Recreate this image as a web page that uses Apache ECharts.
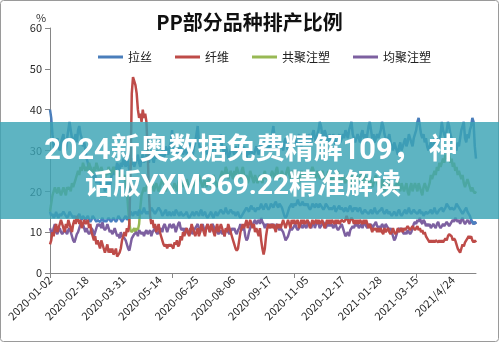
<!DOCTYPE html>
<html><head><meta charset="utf-8">
<script src="https://cdn.jsdelivr.net/npm/echarts@6/dist/echarts.min.js"></script>
<style>html,body{margin:0;padding:0;background:#fff}#c{width:499px;height:342px}</style>
</head><body><div id="c"></div>
<script>
var tickLabels = ['2020-01-02','2020-02-18','2020-03-31','2020-05-14','2020-06-25','2020-08-06','2020-09-17','2020-11-05','2020-12-17','2021-01-28','2021-03-15','2021/4/24'];
var seriesNames = ['拉丝','纤维','共聚注塑','均聚注塑'];
var lasi = [
40,38,34,31,30,32,33,31,30,32,
33,34,31,30,33,35,37,35,33,32,
33,34,32,35,36,34,33,31,32,30,
28,27,25,26,24,25,23,24,22,23,
22,23,21,24,22,20,21,23,22,21,
23,25,24,26,25,27,26,25,27,26,
28,27,26,28,27,25,26,27,28,26,
27,28,29,27,26,28,29,27,28,29,
28,27,29,30,28,27,29,28,30,29,
28,29,30,28,29,31,30,29,31,32,
35,31,30,29,31,30,29,31,30,29,
30,31,29,30,32,31,30,29,31,32,
34,36,32,30,31,29,30,31,30,29,
30,31,29,30,32,31,30,29,31,32,
34,31,30,29,31,30,28,29,30,31,
30,29,31,30,29,31,32,30,29,31,
29,28,30,29,31,30,28,29,30,31,
30,29,31,32,30,31,33,32,31,30,
31,32,34,36,33,31,32,30,31,32,
31,30,32,33,31,30,32,31,33,32,
33,32,31,33,34,32,31,33,32,34,
33,32,34,33,32,34,35,33,32,34,
35,37,36,34,33,35,34,33,32,34,
33,32,34,33,31,32,33,34,32,33,
34,33,35,34,33,35,36,37,34,33,
32,33,34,33,32,34,35,33,34,32,
34,36,37,35,33,34,32,33,34,33,
34,35,37,36,34,33,32,33,34,32,
31,30,32,31,30,29,31,32,30,31,
32,33,31,32,34,33,32,31,33,34,
35,37,38,36,34,33,34,32,33,31,
30,31,32,30,31,33,32,31,33,32,
34,37,35,34,33,35,37,36,34,33,
32,33,31,30,32,31,33,35,36,37,
33,32,34,33,35,36,38,37,31,28];
var xianwei = [
7,8,10,9,11,12,10,11,12,13,
12,11,10,12,11,13,12,11,10,12,
13,12,14,13,12,13,11,12,13,12,
12,13,11,12,10,9,8,9,7,8,
7,6,8,7,6,5,6,7,5,6,
5,6,4.5,5,6,4,3.6,5,6,8,
9,10,9,11,10,12,25,44,48,47,
46,44,40,38,39,37,40,38,39,37,
30,20,14,12,13,11,12,10,11,12,
10,9,8,7,6.5,7,6,7,6.5,7,
7,6,7.5,7,8,6.5,7,9,8,10,
9,10,11,10,9,10,12,11,10,9,
10,11,9,10,12,11,10,9,11,12,
11,10,12,11,10,9,11,12,10,11,
12,11,10,9,11,10,12,11,10,9,
8,7,6,5.5,6,8,10,11,12,11,
12,13,11,12,13,12,11,12,10,11,
10,9,11,8,6,4.5,6,9,11,12,
11,12,11,12,11,10,12,11,12,11,
12,13,12,11,12,13,12,11,13,12,
13,12,12,13,11,12,13,12,13,12,
12,13,12,11,12,13,12,12,13,12,
13,12,12,13,12,11,12,13,12,13,
12,13,13,12,13,12,13,12,12,13,
13,12.5,13,14,13,12,13,13.5,13,12,
13,12,13,12,13,12.5,12,13,12,13,
12,11,12,11,10,11,10.5,11,10,11,
10,11,10,9.5,11,10,10.5,11,10,9.5,
10,11,10,9.5,10,11,10,10.5,11,10,
11,10.5,11,11.5,11,10.5,11,11.5,11,10.5,
11,11.5,10.5,11,10,10.5,9.5,10,9,8.5,
8,7.5,8,7.5,8,7.5,8,7.8,7.5,8,
7.5,8,7.5,8,8.5,8,9,9.5,9.7,9,
8,8.5,8,7,6,5.5,5,6,7,6.5,
7.5,8,8.5,9,8.5,9,8,7.5,8,7.5];
var gongju = [
15,17,19,20,21,20,19.5,21,20,19,
20,21,20,19,21,20.5,21,20,22,21,
22,23,24,25,24,26,25,27,26,25,
26,25,27,26,25,24,26,25,27,26,
25,24,26,25,24,23,25,24,26,25,
24,25,26,25,24,25,23,24,25,24,
23,24,22,20,16,12,10.5,10,10.5,11,
10,11,10.5,12,16,19,20,21,20,21,
22,21,20,21,22,20,21,22,21,20,
21,22,23,22,21,20,22,23,22,21,
20,21,22,21,20,22,23,21,22,21,
22,21,23,22,21,20,22,21,23,22,
21,22,24,23,22,21,22,23,21,22,
23,22,21,22,24,23,22,21,22,23,
24,25,23,24,26,25,23,24,25,24,
23,25,24,26,25,24,23,25,26,24,
23,24,22,23,25,24,23,22,24,23,
22,23,24,23,22,24,25,23,24,22,
23,24,25,24,23,25,26,24,23,24,
25,24,23,24,25,26,24,23,25,24,
23,24,25,23,22,24,25,24,23,24,
24,25,24,23,25,26,25,24,23,25,
24,23,24,25,24,23,22,24,25,23,
22,23,24,23,22,24,25,23,22,23,
24,23,22,23,24,22,21,23,24,22,
23,24,22,23,24,25,23,22,24,23,
22,23,24,22,21,22,23,24,22,21,
22,21,23,22,20,21,22,23,21,22,
21,22,20,21,22,23,21,20,22,21,
20,21,22,20,19,21,22,20,21,22,
21,20,22,21,20,19,21,22,21,20,
21,22,24,23,24,25,24,26,25,27,
26,27,28,27,29,28,30,29,27,28,
26,27,25,26,24,25,24,23,24,22,
21,22,23,22,21,20,21,20,19.5,20];
var junju = [
11,10,9.5,11,12,10,9.5,10.5,11,10,
9.5,10,11,10,9.5,10.5,11,10,9,8,
7.5,8.5,9.5,10,11,12,11.5,12,11,10,
11,10,9.5,10,11,10.5,9,10,11,12,
11.5,12,11,12.5,11,10.5,11,12,11,10,
10.5,9.5,10,11,10,9,9.5,8.5,10,9,
9,8.5,8,7,6,5.5,7,8.5,9,9.5,
9.5,10,9,10.5,10,9.5,10,9,10,10.5,
9.5,10,10.5,9,10,10.5,11,10,9.5,10,
10.5,11,10,11.5,12,11,10,11,12,11.5,
11,12,11.5,10,11,12,12.5,11,10.5,11,
10,11,10.5,9.5,10,11,10,9.5,10.5,11,
11.5,12,11,10,11,12,11,10.5,11,12,
11,10,11,12,11.5,10.5,11,10,9.5,10,
10.5,9.5,10,9,10.5,11,10,9.5,10,11,
10.5,11,10,9.5,10.5,11,12,11,10.5,11,
9,8,8.5,10,11,12,11.5,12.5,13,12,
12.5,13,12,13.5,12.5,12,11,12,11.5,12,
11,12,11.5,12,11,11.5,12,11,10.5,11,
11,10,9,8,8.5,9,10,11,10.5,11,
11.5,12,11,10.5,11,12,11.5,11,12,11.5,
11,12,12.5,11.5,11,12,12.5,11,12,12.5,
12,11,11.5,12,12.5,11.5,11,12,11.5,12,
11.5,12,11,11.5,12,11,10.5,11,11.5,12,
11,10,9,9.5,10,9,10.5,11,11.5,11,
12,11.5,12,11,11.5,12,11,12,12.5,11.5,
11,12,11.5,12,11,11.5,12,12.5,11.5,11,
11.5,11,12,11.5,11,12,11.5,11,10.5,11,
10,9,8,8.5,9.5,10.5,11,10.5,11,10,
9.5,10,9.5,10.5,10,9.5,10,11,12,12.5,
12,13,12.5,13.5,12.5,12,13,12.5,11.5,12,
11.5,12,11,11.5,12,11.5,11,12,12.5,11.5,
11,11.5,12,11.5,12,12.5,12,11.5,12,12.5,
13,12.5,13.5,13,12.5,13,12,13,13.5,12.5,
12,12.5,13,12.5,12,13,12.5,12,12.5,12];
var qita = [
15,14,14.5,13.5,14,15,14,13.5,14.5,14,
14,15,14.5,14,13.5,14,15,14.5,14,13.5,
14,13.5,13,14,14.5,13.5,13,14,13.5,13,
13.5,14,13,12.5,13,14,13.5,13,12.5,13,
13,12.5,13,13.5,12.5,13,12.5,13,13.5,13,
12.5,13,13.5,13,12.5,13,14,13.5,13,12.5,
13,13.5,14,13,13.5,14,15,14.5,14,15,
14.5,15,14,15.5,15,14.5,15,16,15,14.5,
15,14.5,15,16,15.5,15,14.5,15,15.5,16,
15.5,15,14,14.5,15,15.5,14,14.5,15,14,
14.5,15,14,15.5,15,14.5,14,15,14.5,14,
14,14.5,15,14,13.5,14,14.5,15,14,14.5,
15,14.5,14,15,15.5,14,14.5,15,14,13.5,
14,14.5,15,14,13.5,14.5,15,14,14.5,15,
15.5,15,14.5,15,16,15,14.5,15,15.5,15,
14.5,15,14,14.5,15,14,13.5,14,14.5,15,
15,16,15.5,15,16,16.5,15.5,16,15,15.5,
16,15.5,16,17,16,15.5,16.5,17,16,15.5,
16,17,16.5,16,17,17.5,16.5,16,17,16.5,
16,15,14,13.5,14,15,16,16.5,17,16,
17,16.5,17,18,17,16.5,17,17.5,16.5,17,
16.5,17,16,15.5,16,17,16.5,16,17,16.5,
16,17,16.5,16,15.5,16,17,16.5,16,15.5,
16,15.5,16,16.5,15,15.5,16,16.5,15.5,16,
15.5,15,16,15.5,15,16,16.5,15.5,15,16,
15.5,16,15,15.5,16,15,14.5,15,15.5,15,
15,14.5,15,15.5,14.5,15,16,15,14.5,15,
15,15.5,16,15,14.5,15,15.5,14.5,15,14.5,
14,14.5,15,14.5,14,15,15.5,14.5,14,14.5,
15,15.5,14.5,15,16,15,14.5,15,15.5,15,
15,14.5,15,15.5,14.5,15,14,14.5,15,14.5,
14.5,15,15.5,14.5,15,16,15,14.5,15,15.5,
15.5,16,15,15.5,16,17,16.5,16,15.5,16,
16,15.5,16,17,16.5,16,15.5,15,14.5,15,
15.5,16,15,14.5,14,13,12.5,12,12.5,12];

var categories = lasi.map(function(_, i){ return String(i); });
var font = "'Noto Sans CJK SC', 'Noto Sans', sans-serif";
var bannerFont = "Roboto, 'Noto Sans CJK SC', sans-serif";
var chart = echarts.init(document.getElementById('c'), null, {renderer:'canvas'});
function ln(name, data, color, z){
  return {name:name, type:'line', data:data, showSymbol:false, symbol:'none', z:z,
    lineStyle:{width:2.5, color:color}, itemStyle:{color:color}, emphasis:{disabled:true}, animation:false};
}
chart.setOption({
  animation:false,
  title:{text:'PP部分品种排产比例', left:'center', top:7,
    textStyle:{fontFamily:font, fontSize:20, fontWeight:'bold', color:'#111'}},
  legend:{data:seriesNames, left:93, top:46, icon:'rect', itemWidth:25, itemHeight:3, itemGap:23,
    textStyle:{fontFamily:font, fontSize:12, color:'#222'}},
  grid:{left:50, right:23, top:28, bottom:69},
  xAxis:{type:'category', data:categories, boundaryGap:false,
    axisLine:{lineStyle:{color:'#868686', width:1}},
    axisTick:{show:true, interval:99, length:5, lineStyle:{color:'#868686'}},
    axisLabel:{interval:29, rotate:45, fontSize:11, color:'#2a2a2a', fontFamily:font, margin:5,
      formatter:function(v, idx){ return idx % 30 === 0 ? (tickLabels[idx/30] || '') : ''; }},
    splitLine:{show:false}},
  yAxis:{type:'value', min:0, max:60, interval:10,
    axisLine:{show:true, lineStyle:{color:'#868686', width:1}},
    axisTick:{show:true, length:5, lineStyle:{color:'#868686'}},
    axisLabel:{fontSize:11, color:'#2a2a2a', fontFamily:font, margin:8},
    splitLine:{show:false}},
  series:[
    ln('拉丝', lasi, '#4a7ebb', 2),
    ln('纤维', xianwei, '#be4b48', 3),
    ln('共聚注塑', gongju, '#98b954', 2),
    ln('均聚注塑', junju, '#7d60a0', 2),
    ln('其他', qita, '#4a80c0', 2)
  ],
  graphic:[
    {type:'rect', z:0, silent:true, shape:{x:0.5, y:0.5, width:498, height:341, r:3},
      style:{fill:'none', stroke:'#9a9a9a', lineWidth:1}},
    {type:'text', left:36, top:12, silent:true, style:{text:'%', font:'11px ' + font, fill:'#333'}},
    {type:'rect', z:100, silent:true, shape:{x:0, y:122, width:499, height:97},
      style:{fill:'rgba(58,164,180,0.82)'}},
    {type:'text', z:101, silent:true, x:251, y:152,
      style:{text:'2024新奥数据免费精解109， 神', font:'bold 29px ' + bannerFont, fill:'#ffffff',
        textAlign:'center', textVerticalAlign:'middle', shadowColor:'rgba(0,0,0,0.35)', shadowBlur:3}},
    {type:'text', z:101, silent:true, x:243, y:187,
      style:{text:'话版YXM369.22精准解读', font:'bold 28px ' + bannerFont, fill:'#ffffff',
        textAlign:'center', textVerticalAlign:'middle', shadowColor:'rgba(0,0,0,0.35)', shadowBlur:3}}
  ]
});
</script>
</body></html>
